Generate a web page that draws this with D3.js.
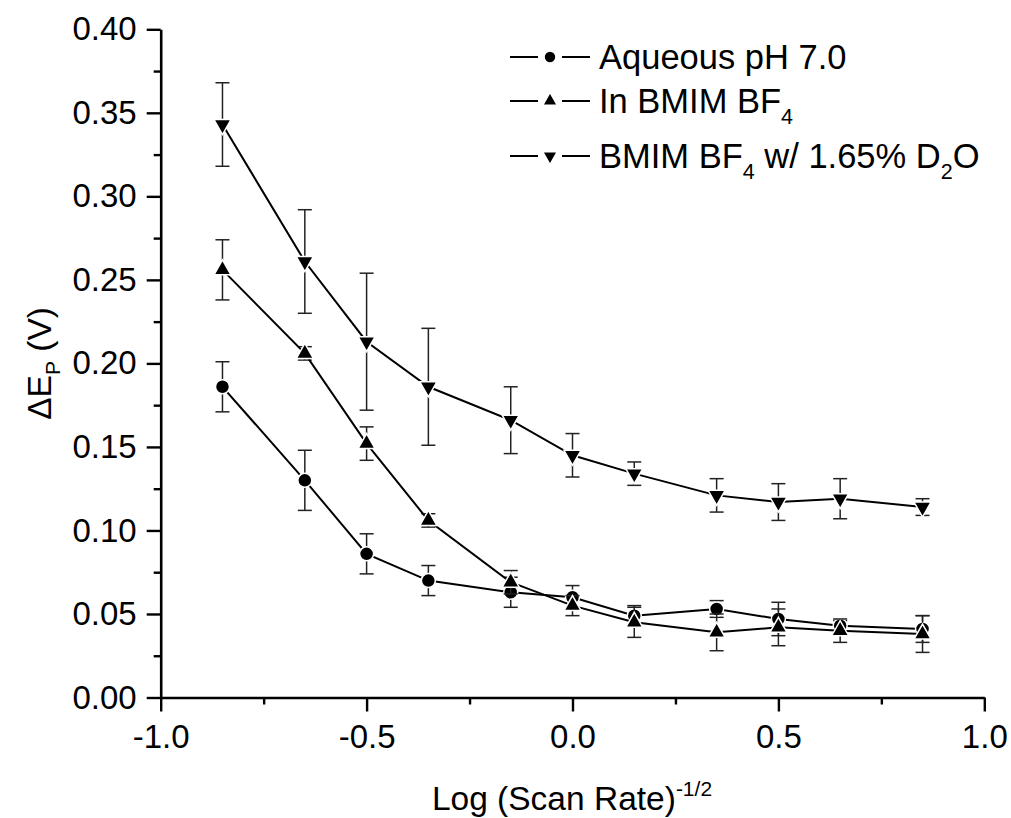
<!DOCTYPE html>
<html>
<head>
<meta charset="utf-8">
<script src="https://cdn.jsdelivr.net/npm/d3@7"></script>
<style>
  html, body { margin: 0; padding: 0; background: #fff; }
  svg { display: block; font-family: "Liberation Sans", Arial, sans-serif; }
</style>
</head>
<body>
<svg id="chart" width="1011" height="818"></svg>
<script>
// Log (scan rate)^-1/2 positions
const logScan = [-0.85, -0.65, -0.5, -0.35, -0.15, 0, 0.15, 0.35, 0.5, 0.65, 0.85];

// Peak separation ΔEp (V) and error half-widths for each medium
const aqueous      = [0.186, 0.130, 0.086, 0.070, 0.063, 0.060, 0.049, 0.053, 0.047, 0.043, 0.041];
const aqueousErr   = [0.015, 0.018, 0.012, 0.009, 0.009, 0.007, 0.006, 0.005, 0.010, 0.003, 0.008];
const bmim         = [0.256, 0.206, 0.152, 0.106, 0.069, 0.055, 0.045, 0.039, 0.042, 0.040, 0.038];
const bmimErr      = [0.018, 0.004, 0.010, 0.004, 0.007, 0.006, 0.009, 0.011, 0.011, 0.007, 0.011];
const bmimD2O      = [0.343, 0.261, 0.213, 0.186, 0.166, 0.145, 0.134, 0.121, 0.117, 0.119, 0.114];
const bmimD2OErr   = [0.025, 0.031, 0.041, 0.035, 0.020, 0.013, 0.007, 0.010, 0.011, 0.012, 0.005];

const xTicks = [-1.0, -0.5, 0.0, 0.5, 1.0];
const yTicks = [0.00, 0.05, 0.10, 0.15, 0.20, 0.25, 0.30, 0.35, 0.40];

const series = [
  { name: "aqueous", values: aqueous, errs: aqueousErr, symbol: "circle" },
  { name: "bmim", values: bmim, errs: bmimErr, symbol: "up" },
  { name: "bmimD2O", values: bmimD2O, errs: bmimD2OErr, symbol: "down" }
];

const svg = d3.select("#chart");
const plotLeft = 160.7, plotRight = 984.3, plotTop = 29.3, plotBottom = 697.5;

const x = d3.scaleLinear().domain([-1, 1]).range([plotLeft, plotRight]);
const y = d3.scaleLinear().domain([0, 0.4]).range([plotBottom, plotTop]);

const fmtX = v => d3.format(".1f")(v).replace("\u2212", "-");
const fmtY = v => d3.format(".2f")(v);

// Axes: major ticks with labels, then unlabeled minor ticks
const xAxis = svg.append("g").attr("transform", `translate(0,${plotBottom})`)
  .call(d3.axisBottom(x).tickValues(xTicks).tickFormat(fmtX).tickSizeInner(14).tickSizeOuter(0).tickPadding(13));
svg.append("g").attr("transform", `translate(0,${plotBottom})`)
  .call(d3.axisBottom(x).tickValues(d3.range(-0.75, 1, 0.5)).tickFormat("").tickSizeInner(7).tickSizeOuter(0))
  .select(".domain").remove();

const yAxis = svg.append("g").attr("transform", `translate(${plotLeft},0)`)
  .call(d3.axisLeft(y).tickValues(yTicks).tickFormat(fmtY).tickSizeInner(14).tickSizeOuter(0).tickPadding(10));
svg.append("g").attr("transform", `translate(${plotLeft},0)`)
  .call(d3.axisLeft(y).tickValues(d3.range(0.025, 0.4, 0.05)).tickFormat("").tickSizeInner(7).tickSizeOuter(0))
  .select(".domain").remove();

svg.selectAll(".domain").attr("stroke", "#000").attr("stroke-width", 2.6);
svg.selectAll(".tick line").attr("stroke", "#000").attr("stroke-width", 2.4);
svg.selectAll(".tick text").attr("fill", "#000").attr("font-size", 33)
  .attr("font-family", "'Liberation Sans', Arial, sans-serif");
xAxis.selectAll(".tick text").attr("dy", "0.71em");

// Axis titles
const xTitle = svg.append("text")
  .attr("x", 572).attr("y", 810)
  .attr("text-anchor", "middle").attr("font-size", 33.5).attr("fill", "#000");
xTitle.append("tspan").text("Log (Scan Rate)");
xTitle.append("tspan").attr("font-size", 21).attr("dy", -14).text("-1/2");

const yTitle = svg.append("text")
  .attr("transform", `translate(51,${(plotTop + plotBottom) / 2}) rotate(-90)`)
  .attr("text-anchor", "middle").attr("font-size", 33.5).attr("fill", "#000");
yTitle.append("tspan").text("\u0394E");
yTitle.append("tspan").attr("font-size", 21).attr("dy", 9).text("P");
yTitle.append("tspan").attr("dy", -9).text(" (V)");

// Marker shapes
const triW = 17, triH = 15, circR = 7;
function drawMarker(g, kind, cx, cy, scale) {
  const s = scale || 1;
  if (kind === "circle") {
    g.append("circle").attr("cx", cx).attr("cy", cy).attr("r", circR * s)
      .attr("fill", "#000").attr("stroke", "#fff").attr("stroke-width", 1.5);
  } else {
    const w = triW * s / 2, h = triH * s;
    const pts = kind === "up"
      ? [[cx - w, cy + h / 3], [cx + w, cy + h / 3], [cx, cy - 2 * h / 3]]
      : [[cx - w, cy - h / 3], [cx + w, cy - h / 3], [cx, cy + 2 * h / 3]];
    g.append("polygon").attr("points", pts.map(p => p.join(",")).join(" "))
      .attr("fill", "#000").attr("stroke", "#fff").attr("stroke-width", 1.5)
      .attr("stroke-linejoin", "miter");
  }
}

const line = d3.line().x(d => x(d.x)).y(d => y(d.v));
const plot = svg.append("g");

series.forEach(s => {
  const pts = logScan.map((xv, i) => ({ x: xv, v: s.values[i], e: s.errs[i] }));
  const g = plot.append("g").attr("class", s.name);
  // error bars
  pts.forEach(p => {
    const x0 = x(p.x), yTop = y(p.v + p.e), yBot = y(p.v - p.e);
    g.append("line").attr("x1", x0).attr("x2", x0).attr("y1", yTop).attr("y2", yBot)
      .attr("stroke", "#222").attr("stroke-width", 1.5);
    [yTop, yBot].forEach(yy => g.append("line")
      .attr("x1", x0 - 7).attr("x2", x0 + 7).attr("y1", yy).attr("y2", yy)
      .attr("stroke", "#222").attr("stroke-width", 1.5));
  });
  g.append("path").datum(pts).attr("d", line)
    .attr("fill", "none").attr("stroke", "#000").attr("stroke-width", 2);
  pts.forEach(p => drawMarker(g, s.symbol, x(p.x), y(p.v)));
});

// Legend
const legendRows = [
  { symbol: "circle", y: 57, parts: [["Aqueous pH 7.0", 0]] },
  { symbol: "up", y: 101, parts: [["In BMIM BF", 0], ["4", 1]] },
  { symbol: "down", y: 156, parts: [["BMIM BF", 0], ["4", 1], [" w/ 1.65% D", 0], ["2", 1], ["O", 0]] }
];
const legend = svg.append("g");
legendRows.forEach(r => {
  legend.append("line").attr("x1", 510).attr("x2", 538).attr("y1", r.y).attr("y2", r.y)
    .attr("stroke", "#000").attr("stroke-width", 2);
  legend.append("line").attr("x1", 562).attr("x2", 590).attr("y1", r.y).attr("y2", r.y)
    .attr("stroke", "#000").attr("stroke-width", 2);
  drawMarker(legend, r.symbol, 550, r.y, 0.85);
  const t = legend.append("text").attr("x", 599).attr("y", r.y + 12)
    .attr("font-size", 34.5).attr("fill", "#000");
  let sub = false;
  r.parts.forEach(([txt, isSub]) => {
    const ts = t.append("tspan").text(txt);
    if (isSub && !sub) { ts.attr("font-size", 21.5).attr("dy", 11); sub = true; }
    else if (!isSub && sub) { ts.attr("dy", -11); sub = false; }
  });
});
</script>
</body>
</html>
